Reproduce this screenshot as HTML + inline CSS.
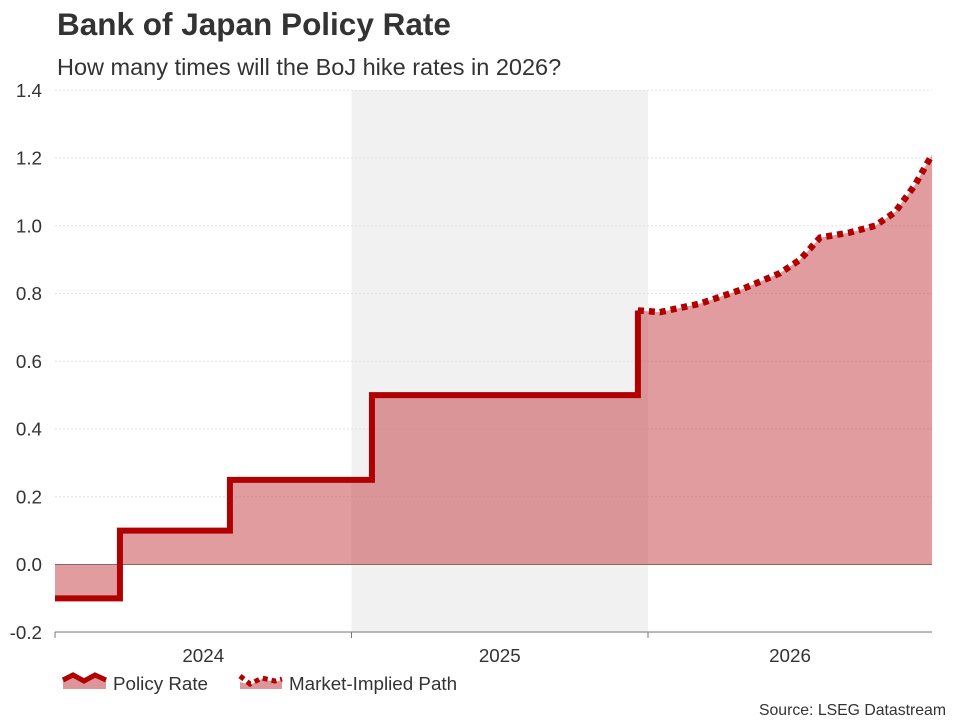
<!DOCTYPE html>
<html><head><meta charset="utf-8"><style>
body{margin:0;background:#fff;font-family:"Liberation Sans",sans-serif;}
svg text{font-family:"Liberation Sans",sans-serif;}
</style></head><body>
<svg id="c" width="960" height="720" xmlns="http://www.w3.org/2000/svg">
<text x="57" y="35" font-size="31.5" font-weight="bold" fill="#333">Bank of Japan Policy Rate</text>
<text x="57" y="75" font-size="23.5" fill="#333">How many times will the BoJ hike rates in 2026?</text>
<g id="plot"></g>
<g>
<g>
<path d="M63,680 L73,675 L84,681 L95,675 L106,680 L106,689 L63,689 Z" fill="#dc9598"/>
<path d="M63,680 L73,675 L84,681 L95,675 L106,680" stroke="#b00000" stroke-width="5" fill="none"/>
<text x="113" y="690" font-size="18.8" fill="#333">Policy Rate</text></g>
<g>
<path d="M240,682 L250,685 L262,679 L275,682 L282,680 L282,689 L240,689 Z" fill="#dc9598"/>
<path d="M240,676 L250,684 L262,678 L275,681 L282,679" stroke="#b00000" stroke-width="5" fill="none" stroke-dasharray="5,4"/>
<text x="289" y="690" font-size="18.8" fill="#333">Market-Implied Path</text></g>
</g>
<text x="946" y="715" font-size="15.8" fill="#333" text-anchor="end">Source: LSEG Datastream</text>
</svg>
<script>
const yTicks=[-0.2,0,0.2,0.4,0.6,0.8,1.0,1.2,1.4];
const yearLabels=["2024","2025","2026"];
const policyDates=[2024.0,2024.219,2024.59,2025.069,2025.966];
const policyRates=[-0.1,0.1,0.25,0.5,0.75];
const marketDates=[2025.966,2026.04,2026.175,2026.31,2026.445,2026.513,2026.58,2026.68,2026.766,2026.833,2026.9,2026.958];
const marketRates=[0.75,0.745,0.77,0.81,0.86,0.9,0.965,0.98,1.0,1.04,1.12,1.21];
const X0=55,X1=932,tEnd=2026.958;
const x=t=>X0+(t-2024)*296.5;
const y=v=>564.5-v*338.75;
const NS="http://www.w3.org/2000/svg";
const g=document.getElementById('plot');
function mk(tag,attrs,parent){const e=document.createElementNS(NS,tag);for(const k in attrs)e.setAttribute(k,attrs[k]);(parent||g).appendChild(e);return e;}
let r=mk('rect',{x:x(2025),y:y(1.4),width:x(2026)-x(2025),height:y(-0.2)-y(1.4),fill:'#f1f1f1'});


yTicks.forEach(v=>{
 let l=mk('line',{x1:X0,x2:X1,y1:y(v),y2:y(v),stroke:v===0?'#777':'#e2e2e2','stroke-width':1,'stroke-dasharray':v===0?'':'2,2'});
 
 
 let t=mk('text',{x:42,y:y(v)+6.5,'font-size':18.8,fill:'#333','text-anchor':'end'});
 t.textContent=v.toFixed(1);
 
 
});
let pts=[];
for(let i=0;i<policyDates.length;i++){
 if(i>0)pts.push([x(policyDates[i]),y(policyRates[i-1])]);
 pts.push([x(policyDates[i]),y(policyRates[i])]);
}
let mpts=marketDates.map((d,i)=>[x(d),y(marketRates[i])]);
let all=pts.concat(mpts.slice(1));
let fd='M'+all.map(p=>p.join(',')).join(' L')+` L${x(tEnd)},${y(0)} L${X0},${y(0)} Z`;
let f=mk('path',{d:fd,fill:'#c43a40','fill-opacity':0.5});


let ax=mk('line',{x1:X0,x2:X1,y1:632,y2:632,stroke:'#777'});


[2024,2025,2026].forEach((yr,i)=>{
 let tk=mk('line',{x1:x(yr),x2:x(yr),y1:632,y2:638,stroke:'#777'});
 
 
 let t=mk('text',{x:(x(yr)+Math.min(x(yr+1),X1))/2,y:662,'font-size':18.8,fill:'#333','text-anchor':'middle'});
 t.textContent=yearLabels[i];
 
 
});
let pl=mk('path',{d:'M'+pts.map(p=>p.join(',')).join(' L'),stroke:'#b00000','stroke-width':6,fill:'none'});


let ml=mk('path',{d:'M'+mpts.map(p=>p.join(',')).join(' L'),stroke:'#b00000','stroke-width':6.5,fill:'none','stroke-dasharray':'6,5'});


</script>
</body></html>
